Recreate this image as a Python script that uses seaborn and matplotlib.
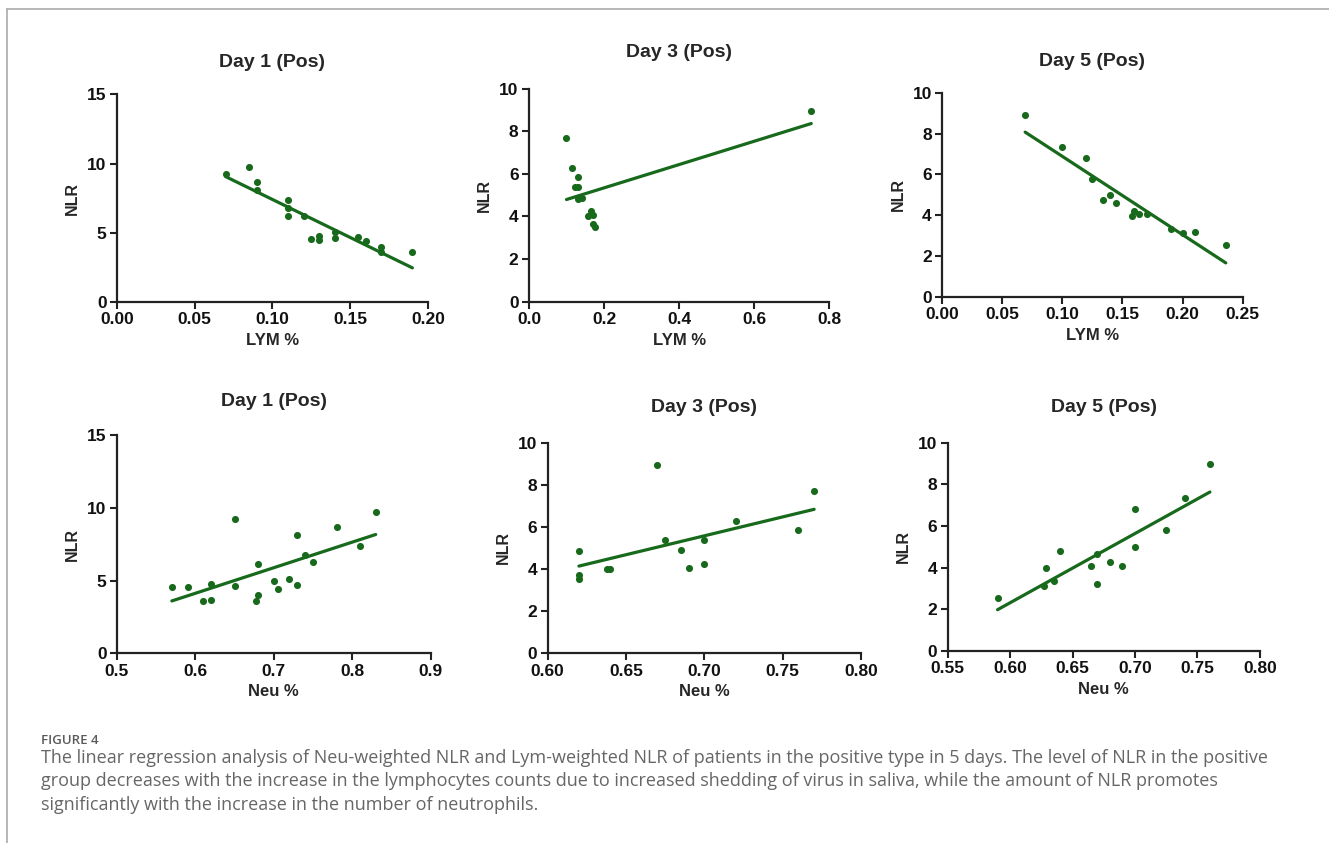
import numpy as np
import pandas as pd
import matplotlib
matplotlib.use("Agg")
import matplotlib.pyplot as plt
import seaborn as sns
from matplotlib.lines import Line2D

# ---- data ----
# Day 1, LYM %
d1_lym = [0.07, 0.085, 0.09, 0.09, 0.11, 0.11, 0.11, 0.12, 0.125, 0.13, 0.13,
          0.14, 0.14, 0.155, 0.16, 0.17, 0.17, 0.19]
d1_lym_nlr = [9.27, 9.73, 8.64, 8.06, 7.33, 6.77, 6.17, 6.24, 4.52, 4.75, 4.50,
              5.08, 4.60, 4.72, 4.43, 3.99, 3.63, 3.58]
# Day 3, LYM %
d3_lym = [0.10, 0.115, 0.13, 0.124, 0.13, 0.13, 0.14, 0.165, 0.158, 0.17,
          0.17, 0.175, 0.752]
d3_lym_nlr = [7.68, 6.26, 5.86, 5.40, 5.37, 4.82, 4.85, 4.24, 4.03, 4.05,
              3.66, 3.52, 8.93]
# Day 5, LYM %
d5_lym = [0.069, 0.10, 0.12, 0.125, 0.134, 0.14, 0.145, 0.158, 0.16, 0.164,
          0.17, 0.19, 0.20, 0.21, 0.236]
d5_lym_nlr = [8.92, 7.35, 6.78, 5.78, 4.75, 5.00, 4.61, 3.95, 4.22, 4.07,
              4.08, 3.33, 3.14, 3.17, 2.52]
# Day 1, Neu %
d1_neu = [0.57, 0.59, 0.61, 0.62, 0.62, 0.65, 0.65, 0.68, 0.68, 0.677, 0.70,
          0.705, 0.72, 0.73, 0.73, 0.74, 0.75, 0.78, 0.81, 0.83]
d1_neu_nlr = [4.55, 4.55, 3.58, 4.78, 3.63, 9.26, 4.62, 6.16, 4.04, 3.58, 5.00,
              4.43, 5.12, 8.11, 4.71, 6.73, 6.25, 8.66, 7.35, 9.74]
# Day 3, Neu %
d3_neu = [0.62, 0.62, 0.62, 0.638, 0.64, 0.67, 0.675, 0.685, 0.69, 0.70,
          0.70, 0.72, 0.76, 0.77]
d3_neu_nlr = [4.85, 3.70, 3.54, 4.00, 4.00, 8.93, 5.40, 4.88, 4.06, 5.39,
              4.25, 6.27, 5.86, 7.69]
# Day 5, Neu %
d5_neu = [0.59, 0.627, 0.629, 0.635, 0.64, 0.665, 0.67, 0.67, 0.68, 0.69,
          0.70, 0.70, 0.725, 0.74, 0.76]
d5_neu_nlr = [2.52, 3.11, 3.97, 3.35, 4.78, 4.05, 4.63, 3.19, 4.26, 4.07,
              6.81, 5.00, 5.80, 7.35, 8.97]

titles = ["Day 1 (Pos)", "Day 3 (Pos)", "Day 5 (Pos)",
          "Day 1 (Pos)", "Day 3 (Pos)", "Day 5 (Pos)"]
xlabels = ["LYM %", "LYM %", "LYM %", "Neu %", "Neu %", "Neu %"]
xticks = [[0.00, 0.05, 0.10, 0.15, 0.20], [0.0, 0.2, 0.4, 0.6, 0.8],
          [0.00, 0.05, 0.10, 0.15, 0.20, 0.25], [0.5, 0.6, 0.7, 0.8, 0.9],
          [0.60, 0.65, 0.70, 0.75, 0.80], [0.55, 0.60, 0.65, 0.70, 0.75, 0.80]]
xfmt = ["%.2f", "%.1f", "%.2f", "%.1f", "%.2f", "%.2f"]
yticks = [[0, 5, 10, 15], [0, 2, 4, 6, 8, 10], [0, 2, 4, 6, 8, 10],
          [0, 5, 10, 15], [0, 2, 4, 6, 8, 10], [0, 2, 4, 6, 8, 10]]

caption_head = "FIGURE 4"
caption_lines = [
    "The linear regression analysis of Neu-weighted NLR and Lym-weighted NLR of patients in the positive type in 5 days. The level of NLR in the positive",
    "group decreases with the increase in the lymphocytes counts due to increased shedding of virus in saliva, while the amount of NLR promotes",
    "significantly with the increase in the number of neutrophils.",
]

panels = [(d1_lym, d1_lym_nlr), (d3_lym, d3_lym_nlr), (d5_lym, d5_lym_nlr),
          (d1_neu, d1_neu_nlr), (d3_neu, d3_neu_nlr), (d5_neu, d5_neu_nlr)]

# ---- style ----
sns.set_theme(style="ticks")
plt.rcParams['font.family'] = ['Liberation Sans', 'DejaVu Sans']
plt.rcParams['font.weight'] = 'bold'

green = "#17691c"

# axes boxes [left, bottom, width, height] in figure fractions
boxes = [[0.088, 0.642, 0.234, 0.246], [0.398, 0.642, 0.226, 0.253],
         [0.709, 0.648, 0.226, 0.242], [0.088, 0.225, 0.236, 0.259],
         [0.412, 0.225, 0.236, 0.250], [0.713, 0.228, 0.235, 0.247]]
title_pad = [20, 23, 19, 21, 22, 22]

fig = plt.figure(figsize=(13.29, 8.43), dpi=100)

for i, (xs, ys) in enumerate(panels):
    ax = fig.add_axes(boxes[i])
    df = pd.DataFrame({"x": xs, "NLR": ys})
    sns.regplot(data=df, x="x", y="NLR", ax=ax, ci=None, color=green,
                scatter_kws={"s": 26, "linewidths": 0, "alpha": 1},
                line_kws={"linewidth": 2.3})
    ax.set_xlim(xticks[i][0], xticks[i][-1])
    ax.set_ylim(yticks[i][0], yticks[i][-1])
    ax.set_xticks(xticks[i])
    ax.set_xticklabels([xfmt[i] % t for t in xticks[i]])
    ax.set_yticks(yticks[i])
    ax.set_yticklabels([str(t) for t in yticks[i]])
    ax.tick_params(axis="both", labelsize=12.5, width=1.5, length=5, pad=2.5,
                   color="#222222", labelcolor="#111111")
    for lab in ax.get_xticklabels() + ax.get_yticklabels():
        lab.set_fontweight("bold")
    sns.despine(ax=ax)
    for sp in ["left", "bottom"]:
        ax.spines[sp].set_linewidth(1.6)
        ax.spines[sp].set_color("#222222")
    ax.set_xlabel(xlabels[i], fontsize=12, fontweight="bold", labelpad=4)
    ax.set_ylabel("NLR", fontsize=11.5, fontweight="bold", labelpad=5)
    ax.set_title(titles[i], fontsize=14, fontweight="bold", pad=title_pad[i])
    ax.set_facecolor("white")
    for coll in ax.collections:
        coll.set_clip_on(False)

# frame lines at top and left
fig.add_artist(Line2D([7 / 1329, 1], [1 - 9 / 843, 1 - 9 / 843], color="#aaaaaa",
                      linewidth=1.2, transform=fig.transFigure))
fig.add_artist(Line2D([7 / 1329, 7 / 1329], [0, 1 - 9 / 843], color="#aaaaaa",
                      linewidth=1.2, transform=fig.transFigure))

# caption
fig.text(41 / 1329, 1 - 740 / 843, caption_head, fontsize=9.5, color="#5a5a5a",
         family=["Open Sans", "DejaVu Sans"], fontweight="semibold", va="center")
for k, line in enumerate(caption_lines):
    fig.text(41 / 1329, 1 - (758 + 23.5 * k) / 843, line, fontsize=13,
             color="#666666", family=["Open Sans", "DejaVu Sans"],
             fontweight="normal", va="center")

fig.savefig("out.png", dpi=100, facecolor="white")
